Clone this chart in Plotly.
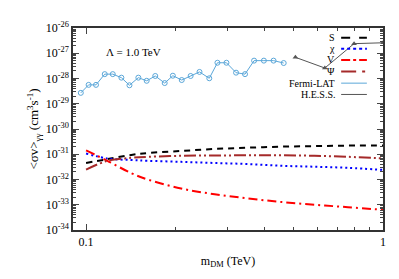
import plotly.graph_objects as go

# mass grid (TeV) for the model curves
m_dm = [0.1, 0.118, 0.142, 0.162, 0.209, 0.271, 0.351, 0.454, 0.588, 0.762, 1.0]

# <sigma v>_gamma gamma (cm^3 s^-1), Lambda = 1 TeV
sv_S = [4.5e-32, 6.4e-32, 9.4e-32, 1.12e-31, 1.35e-31, 1.62e-31, 1.82e-31, 2.0e-31, 2.1e-31, 2.2e-31, 2.2e-31]
sv_chi = [1.07e-31, 6.8e-32, 5.9e-32, 5.5e-32, 5.0e-32, 4.5e-32, 4.1e-32, 3.5e-32, 3.2e-32, 2.9e-32, 2.4e-32]
sv_V = [1.43e-31, 5.5e-32, 1.78e-32, 9.8e-33, 4.4e-33, 2.6e-33, 1.78e-33, 1.29e-33, 1.0e-33, 8.0e-34, 6.3e-34]
sv_Psi = [2.45e-32, 5.5e-32, 7.2e-32, 7.9e-32, 8.7e-32, 8.9e-32, 9.1e-32, 9.1e-32, 8.7e-32, 7.9e-32, 6.8e-32]

# Fermi-LAT limits
fermi_m = [0.096, 0.102, 0.108, 0.1156, 0.123, 0.1315, 0.140, 0.150, 0.160, 0.171, 0.184, 0.196,
           0.210, 0.225, 0.241, 0.260, 0.277, 0.297, 0.320, 0.343, 0.368, 0.397, 0.428, 0.463]
fermi_sv = [2.7e-29, 5.6e-29, 5.6e-29, 1.49e-28, 1.49e-28, 1.08e-28, 5.4e-29, 1.08e-28, 8.1e-29, 1.26e-28,
            6.6e-29, 1.29e-28, 8.7e-29, 1.26e-28, 1.82e-28, 1.02e-28, 4.2e-28, 4.2e-28, 1.7e-28, 1.49e-28,
            5.1e-28, 5.1e-28, 5.1e-28, 4.1e-28]

# H.E.S.S. limits
hess_m = [0.507, 0.637, 0.799, 1.0]
hess_sv = [6.9e-28, 2.6e-28, 2.4e-27, 2.6e-27]

serif = "Liberation Serif"

fig = go.Figure()

curves = [
    ("S", sv_S, "black", "6px,5px"),
    ("χ", sv_chi, "blue", "2px,3px"),
    ("V", sv_V, "red", "9px,4px,2px,4px"),
    ("Ψ", sv_Psi, "#a52a2a", "12px,3px,2px,3px,2px,3px"),
]
for name, vals, col, dash in curves:
    fig.add_trace(go.Scatter(x=m_dm, y=vals, mode="lines", name=name, line_shape="spline",
                             line=dict(color=col, width=2, dash=dash)))

fig.add_trace(go.Scatter(x=fermi_m, y=fermi_sv, mode="lines+markers", name="Fermi-LAT",
                         line=dict(color="#5ba7d9", width=1),
                         marker=dict(symbol="circle-open", size=5, color="#5ba7d9", line=dict(width=1))))
fig.add_trace(go.Scatter(x=hess_m, y=hess_sv, mode="lines+markers", name="H.E.S.S.",
                         line=dict(color="#555555", width=1),
                         marker=dict(symbol="triangle-up", size=5, color="#555555")))

# legend drawn gnuplot-style: text on the left, line sample on the right
leg_y = [0.952, 0.897, 0.842, 0.785, 0.727, 0.671]
leg_items = [("S", "black", "dash", 2), ("χ", "blue", "dot", 2), ("V", "red", "dashdot", 2),
             ("Ψ", "#a52a2a", "longdashdot", 2), ("Fermi-LAT", "#5ba7d9", "solid", 1),
             ("H.E.S.S.", "#555555", "solid", 1)]
for (txt, col, dash, w), yy in zip(leg_items, leg_y):
    fig.add_annotation(x=0.85, y=yy, xref="paper", yref="paper", text=txt, showarrow=False,
                       xanchor="right", yanchor="middle", font=dict(family=serif, size=10, color="black"))
    fig.add_shape(type="line", xref="paper", yref="paper", x0=0.865, x1=0.948, y0=yy, y1=yy,
                  line=dict(color=col, width=w, dash=dash))

fig.add_annotation(x=0.1, y=0.88, xref="paper", yref="paper", text="Λ = 1.0 TeV", showarrow=False,
                   xanchor="left", yanchor="middle", font=dict(family=serif, size=11, color="black"))

y_major = [10.0 ** k for k in range(-34, -25)]
y_text = ["10<sup>%d</sup>" % k for k in range(-34, -25)]
y_minor = [d * 10.0 ** k for k in range(-34, -26) for d in range(2, 10)]
x_minor = [0.09] + [d / 10 for d in range(2, 10)]

fig.update_layout(
    width=399, height=279,
    margin=dict(l=65, r=24, t=13, b=57),
    paper_bgcolor="white", plot_bgcolor="white",
    showlegend=False,
    font=dict(family=serif, size=12, color="black"),
    xaxis=dict(type="log", range=[-1.044, 0], tickvals=[0.1, 1], ticktext=["0.1", "1"],
               ticks="inside", ticklen=6, showline=True, mirror="ticks", linecolor="#333333",
               linewidth=1.5, showgrid=False, zeroline=False,
               minor=dict(tickvals=x_minor, ticks="inside", ticklen=3, showgrid=False),
               title=dict(text="m<sub>DM</sub> (TeV)", font=dict(size=12), standoff=8)),
    yaxis=dict(type="log", range=[-34, -26], tickvals=y_major, ticktext=y_text,
               ticks="inside", ticklen=6, showline=True, mirror="ticks", linecolor="#333333",
               linewidth=1.5, showgrid=False, zeroline=False,
               minor=dict(tickvals=y_minor, ticks="inside", ticklen=3, showgrid=False),
               title=dict(text="<σv><sub>γγ</sub> (cm<sup>3</sup>s<sup>-1</sup>)", font=dict(size=13),
                          standoff=4)),
)

fig.write_html("out.html")
